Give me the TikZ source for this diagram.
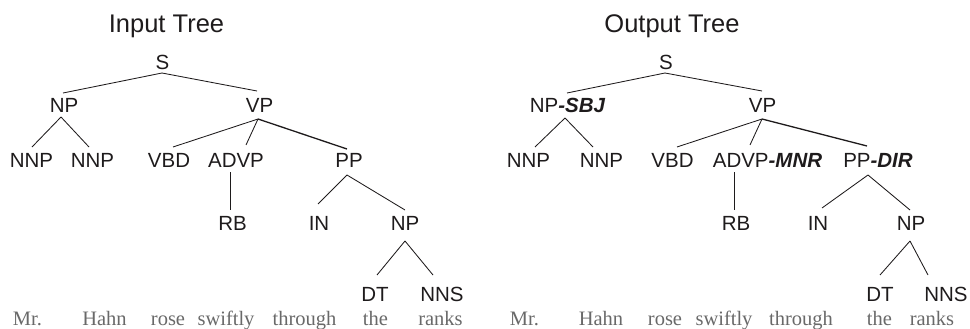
\documentclass[tikz,border=0pt]{standalone}
\usepackage{fontspec}
\setmainfont{Liberation Sans}
\newfontfamily\wordfont{Liberation Serif}
\definecolor{ink}{RGB}{30,27,28}
\definecolor{wordgray}{RGB}{105,105,105}
\newcommand\sfx[1]{{\bfseries\itshape #1}}
\begin{document}
\begin{tikzpicture}[x=1pt,y=-1pt,
  lab/.style={inner sep=0pt,anchor=base,font=\fontsize{20.5}{24}\selectfont,text=ink},
  ttl/.style={inner sep=0pt,anchor=base,font=\fontsize{25.5}{30}\selectfont,text=ink},
  wrd/.style={inner sep=0pt,anchor=base,font=\wordfont\fontsize{20.5}{24}\selectfont,text=wordgray},
  br/.style={draw=ink,line width=0.85pt},
  brh/.style={draw=ink,line width=1.3pt}]
\useasboundingbox (0,0) rectangle (970,329);
% ---------------- Left tree ----------------
\node[ttl] (tIn) at (166.5,33) {Input Tree};
\node[lab] (sL) at (162.5,70) {S};
\node[lab] (npL) at (64,113) {NP};
\node[lab] (vpL) at (259.5,113) {VP};
\node[lab] (nnpaL) at (31.5,167) {NNP};
\node[lab] (nnpbL) at (92.5,167) {NNP};
\node[lab] (vbdL) at (169,167) {VBD};
\node[lab] (advpL) at (236,167) {ADVP};
\node[lab] (ppL) at (349,167) {PP};
\node[lab] (rbL) at (232.5,230) {RB};
\node[lab] (inL) at (319,230) {IN};
\node[lab] (npbL) at (405,230) {NP};
\node[lab] (dtL) at (375,301) {DT};
\node[lab] (nnsL) at (442,301) {NNS};
\draw[br] ([shift={(-0.5,3)}]sL.base) -- ([shift={(-1,-20)}]npL.base);
\draw[br] ([shift={(-0.5,3)}]sL.base) -- ([shift={(-2.5,-22)}]vpL.base);
\draw[br] ([shift={(-3,4)}]npL.base) -- ([shift={(0.5,-20)}]nnpaL.base);
\draw[br] ([shift={(-3,4)}]npL.base) -- ([shift={(-3.5,-20)}]nnpbL.base);
\draw[br] ([shift={(-1.5,6)}]vpL.base) -- ([shift={(4,-20)}]vbdL.base);
\draw[br] ([shift={(-1.5,6)}]vpL.base) -- ([shift={(10,-22)}]advpL.base);
\draw[brh] ([shift={(-1.5,6)}]vpL.base) -- ([shift={(-2,-18)}]ppL.base);
\draw[br] ([shift={(-6,5)}]advpL.base) -- ([shift={(-2.5,-20)}]rbL.base);
\draw[br] ([shift={(-2,8)}]ppL.base) -- ([shift={(-1,-26)}]inL.base);
\draw[br] ([shift={(-2,8)}]ppL.base) -- ([shift={(0,-20)}]npbL.base);
\draw[br] ([shift={(0,11)}]npbL.base) -- ([shift={(2,-26)}]dtL.base);
\draw[br] ([shift={(0,11)}]npbL.base) -- ([shift={(-9,-26)}]nnsL.base);
\node[wrd] (w1L) at (27.5,325) {Mr.};
\node[wrd] (w2L) at (104.5,325) {Hahn};
\node[wrd] (w3L) at (168,325) {rose};
\node[wrd] (w4L) at (226,325) {swiftly};
\node[wrd] (w5L) at (304.5,325) {through};
\node[wrd] (w6L) at (375.5,325) {the};
\node[wrd] (w7L) at (440.5,325) {ranks};
% ---------------- Right tree ----------------
\node[ttl] (tOut) at (672,33) {Output Tree};
\node[lab] (sR) at (666,70) {S};
\node[lab] (npR) at (567.5,113) {NP\sfx{-SBJ}};
\node[lab] (vpR) at (762.5,113) {VP};
\node[lab] (nnpaR) at (528.5,167) {NNP};
\node[lab] (nnpbR) at (601.5,167) {NNP};
\node[lab] (vbdR) at (672.5,167) {VBD};
\node[lab] (advpR) at (767.5,167) {ADVP\sfx{-MNR}};
\node[lab] (ppR) at (878,167) {PP\sfx{-DIR}};
\node[lab] (rbR) at (736,230) {RB};
\node[lab] (inR) at (818,230) {IN};
\node[lab] (npbR) at (911,230) {NP};
\node[lab] (dtR) at (880,301) {DT};
\node[lab] (nnsR) at (946,301) {NNS};
\draw[br] ([shift={(-1,3)}]sR.base) -- ([shift={(-0.5,-20)}]npR.base);
\draw[br] ([shift={(-1,3)}]sR.base) -- ([shift={(-0.5,-22)}]vpR.base);
\draw[br] ([shift={(-2.5,5)}]npR.base) -- ([shift={(6.5,-20)}]nnpaR.base);
\draw[br] ([shift={(-2.5,5)}]npR.base) -- ([shift={(-8.5,-20)}]nnpbR.base);
\draw[br] ([shift={(-0.5,6)}]vpR.base) -- ([shift={(4.5,-20)}]vbdR.base);
\draw[br] ([shift={(-0.5,6)}]vpR.base) -- ([shift={(-17.5,-22)}]advpR.base);
\draw[brh] ([shift={(-0.5,6)}]vpR.base) -- ([shift={(-11,-21)}]ppR.base);
\draw[br] ([shift={(-33.5,5)}]advpR.base) -- ([shift={(-2,-20)}]rbR.base);
\draw[br] ([shift={(-10,8)}]ppR.base) -- ([shift={(4,-22)}]inR.base);
\draw[br] ([shift={(-10,8)}]ppR.base) -- ([shift={(-1,-20)}]npbR.base);
\draw[br] ([shift={(-1,11)}]npbR.base) -- ([shift={(0,-26)}]dtR.base);
\draw[br] ([shift={(-1,11)}]npbR.base) -- ([shift={(-18,-26)}]nnsR.base);
\node[wrd] (w1R) at (524.5,325) {Mr.};
\node[wrd] (w2R) at (601,325) {Hahn};
\node[wrd] (w3R) at (665,325) {rose};
\node[wrd] (w4R) at (724,325) {swiftly};
\node[wrd] (w5R) at (801,325) {through};
\node[wrd] (w6R) at (879.5,325) {the};
\node[wrd] (w7R) at (932,325) {ranks};
\end{tikzpicture}
\end{document}
